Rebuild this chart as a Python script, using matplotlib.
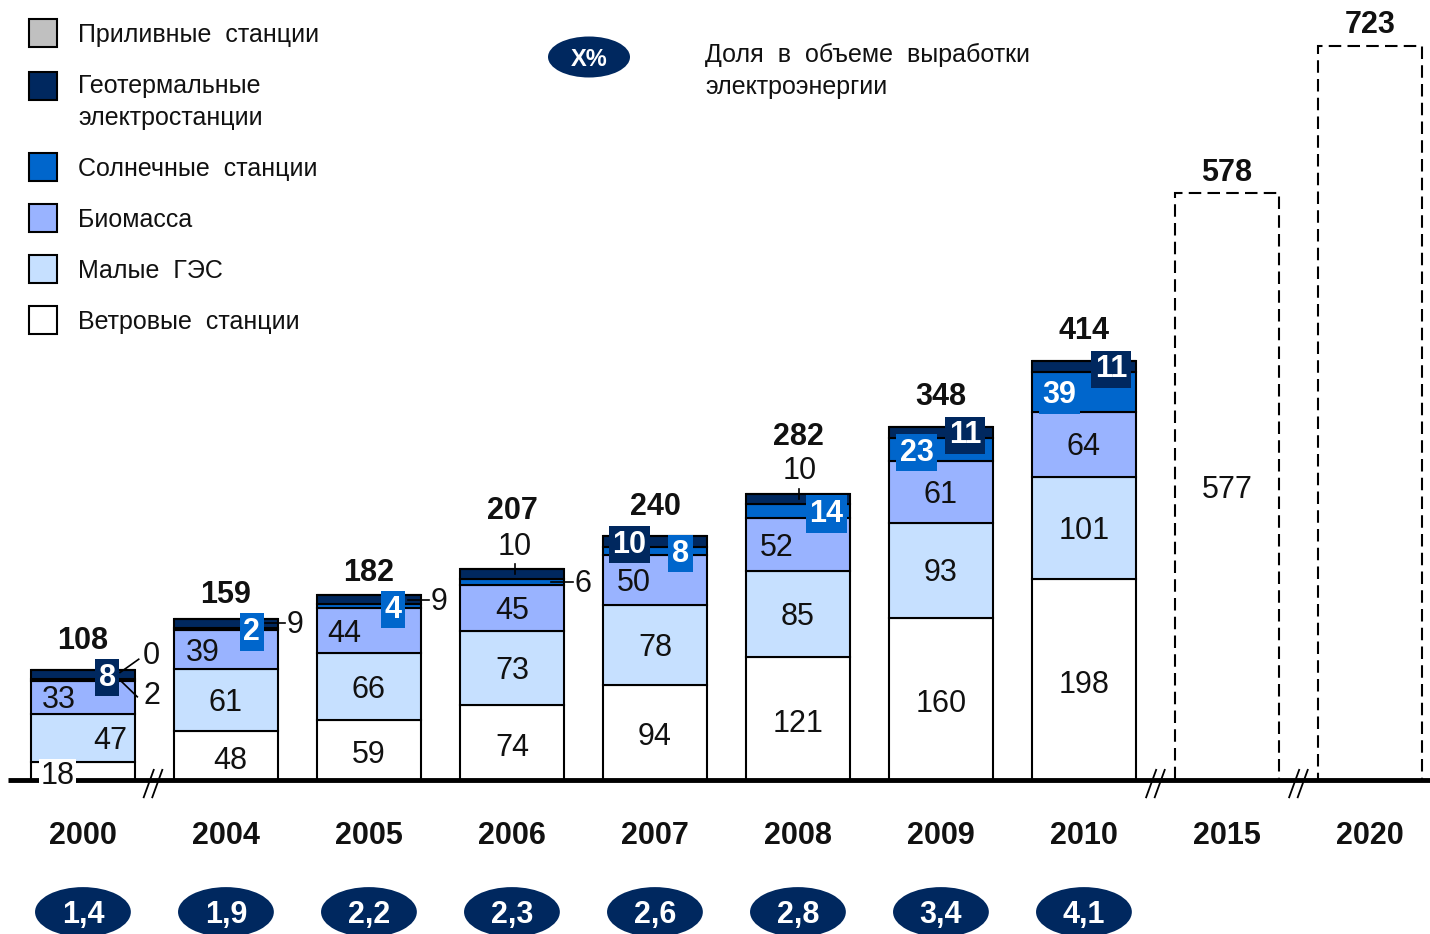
import matplotlib
matplotlib.use('Agg')
import matplotlib.pyplot as plt
from matplotlib.patches import Ellipse, Rectangle
import numpy as np

plt.rcParams['font.family'] = ['Liberation Sans', 'DejaVu Sans']

# data
years = ['2000', '2004', '2005', '2006', '2007', '2008', '2009', '2010', '2015', '2020']
wind = [18, 48, 59, 74, 94, 121, 160, 198]
hydro = [47, 61, 66, 73, 78, 85, 93, 101]
biomass = [33, 39, 44, 45, 50, 52, 61, 64]
solar = [2, 2, 4, 6, 8, 14, 23, 39]
geo = [8, 9, 9, 10, 10, 10, 11, 11]
tidal = [0, 0, 0, 0, 0, 0, 0, 0]
totals = [108, 159, 182, 207, 240, 282, 348, 414, 578, 723]
forecast_inner = ['577', '']
share = ['1,4', '1,9', '2,2', '2,3', '2,6', '2,8', '3,4', '4,1']
names = ['Приливные  станции', 'Геотермальные\nэлектростанции', 'Солнечные  станции',
         'Биомасса', 'Малые  ГЭС', 'Ветровые  станции']

# styling
c_tidal, c_geo, c_solar, c_bio, c_hydro, c_wind = '#C0C0C0', '#00285F', '#0066CC', '#99B3FF', '#C6E0FF', 'white'
txt = '#111111'
fs = 22
tv = -3  # small downward nudge for text so digits sit visually centred

fig = plt.figure(figsize=(14.3, 9.34), dpi=100)
ax = fig.add_axes([0, 0, 1, 1])
ax.set_xlim(-0.580, 9.420)
ax.set_ylim(-151.7, 768.5)
ax.axis('off')

n = len(wind)
x = np.arange(len(years))
w = 0.727

stack = [wind, hydro, biomass, solar, geo, tidal]
cols = [c_wind, c_hydro, c_bio, c_solar, c_geo, c_tidal]
bottoms = []
bottom = np.zeros(n)
for vals, c in zip(stack, cols):
    vals = np.array(vals, float)
    bottoms.append(bottom.copy())
    ax.bar(x[:n], vals, w, bottom=bottom, color=c, edgecolor='black', linewidth=1.5, zorder=3)
    bottom += vals

# forecast bars
ax.bar(x[n:], totals[n:], w, facecolor='white', edgecolor='black', linewidth=1.5,
       linestyle=(0, (6, 3)), zorder=3)
for i, s in zip(x[n:], forecast_inner):
    ax.text(i, totals[i] / 2 + tv, s, ha='center', va='center', fontsize=fs, color=txt, zorder=6)


def mid(k, i):
    return bottoms[k][i] + stack[k][i] / 2


# wind / hydro / biomass labels
wind_dx = [-0.18, 0.03, 0, 0, 0, 0, 0, 0]
hydro_dx = [0.19, 0, 0, 0, 0, 0, 0, 0]
bio_dx = [-0.17, -0.16, -0.17, 0, -0.15, -0.15, 0, 0]
for i in range(n):
    bb = dict(fc='white', ec='none', pad=1) if i == 0 else None
    ax.text(i + wind_dx[i], mid(0, i) - 2 + tv, str(wind[i]), ha='center', va='center',
            fontsize=fs, color=txt, zorder=6, bbox=bb)
    ax.text(i + hydro_dx[i], mid(1, i) + tv, str(hydro[i]), ha='center', va='center',
            fontsize=fs, color=txt, zorder=6)
    ax.text(i + bio_dx[i], mid(2, i) + tv, str(biomass[i]), ha='center', va='center',
            fontsize=fs, color=txt, zorder=6)

# solar and geothermal labels
solar_mode = ['diag', 'box', 'box', 'side', 'box', 'box', 'box', 'box']
solar_dx = [0.48, 0.18, 0.17, 0.50, 0.18, 0.20, -0.17, -0.17]
geo_mode = ['box', 'side', 'side', 'above', 'box', 'above', 'box', 'box']
geo_dx = [0.17, 0.48, 0.49, 0.02, -0.18, 0.01, 0.17, 0.19]


def seg_label(k, i, mode, dx, val, fc):
    m = mid(k, i)
    top = bottoms[k][i] + stack[k][i]
    if mode == 'box':
        ax.text(i + dx, m + tv, str(val), ha='center', va='center', fontsize=fs, color='white',
                fontweight='bold', zorder=7,
                bbox=dict(boxstyle='square,pad=0.12', fc=fc, ec='none'))
    elif mode == 'side':
        ax.plot([i + w / 2 - 0.09, i + dx - 0.07], [m, m], color='black', lw=1.2, zorder=7)
        ax.text(i + dx, m + tv + 1, str(val), ha='center', va='center', fontsize=fs, color=txt, zorder=7)
    elif mode == 'above':
        ax.plot([i + dx, i + dx], [m, top + 5], color='black', lw=1.2, zorder=7)
        ax.text(i + dx, top + 25 + tv, str(val), ha='center', va='center', fontsize=fs, color=txt, zorder=7)
    elif mode == 'diag':
        ax.plot([i + 0.27, i + 0.38], [m - 2, m - 17], color='black', lw=1.2, zorder=7)
        ax.text(i + dx, m - 13 + tv, str(val), ha='center', va='center', fontsize=fs, color=txt, zorder=7)


for i in range(n):
    seg_label(3, i, solar_mode[i], solar_dx[i], solar[i], c_solar)
    seg_label(4, i, geo_mode[i], geo_dx[i], geo[i], c_geo)

# tidal "0" for 2000
top0 = bottoms[5][0]
ax.plot([0.26, 0.39], [top0 - 2, top0 + 11], color='black', lw=1.2, zorder=7)
ax.text(0.48, top0 + 17 + tv, str(tidal[0]), ha='center', va='center', fontsize=fs, color=txt, zorder=7)

# totals
total_dy = [32, 26, 25, 61, 32, 59, 32, 31, 23, 24]
for i, t in enumerate(totals):
    ax.text(i, t + total_dy[i] + tv, str(t), ha='center', va='center', fontsize=fs,
            fontweight='bold', color=txt, zorder=7)

# baseline and break marks
ax.plot([-0.524, 9.42], [0, 0], color='black', lw=3.5, zorder=4, solid_capstyle='butt')
for xc in [0.49, 7.5, 8.5]:
    for d in (-0.03, 0.03):
        ax.plot([xc + d + 0.035, xc + d - 0.035], [10, -17], color='black', lw=1.3, zorder=5)

# years and shares
for i, y in enumerate(years):
    ax.text(i, -52 + tv, y, ha='center', va='center', fontsize=fs, fontweight='bold', color=txt)
for i, s in enumerate(share):
    ax.add_patch(Ellipse((i, -130), 0.67, 49, fc=c_geo, ec='none', zorder=3))
    ax.text(i, -130 + tv, s, ha='center', va='center', fontsize=fs, fontweight='bold', color='white', zorder=4)

# legend (figure pixels)
W, H = 1430, 934


def fx(px):
    return px / W


def fy(py):
    return 1 - py / H


leg_rows = [33, 86, 167, 218, 269, 320]
leg_cols = [c_tidal, c_geo, c_solar, c_bio, c_hydro, c_wind]
for py, c, name in zip(leg_rows, leg_cols, names):
    fig.patches.append(Rectangle((fx(29), fy(py + 14)), 28 / W, 28 / H, transform=fig.transFigure,
                                 fc=c, ec='black', lw=1.5, figure=fig))
    if '\n' in name:
        fig.text(fx(78), fy(py - 12), name, ha='left', va='top', fontsize=18, color=txt,
                 linespacing=1.42)
    else:
        fig.text(fx(78), fy(py + 2), name, ha='left', va='center', fontsize=18, color=txt)

fig.patches.append(Ellipse((fx(589), fy(57)), 82 / W, 41 / H, transform=fig.transFigure,
                           fc=c_geo, ec='none', figure=fig))
fig.text(fx(589), fy(59), 'X%', ha='center', va='center', fontsize=17, fontweight='bold', color='white')
fig.text(fx(705), fy(43), 'Доля  в  объеме  выработки\nэлектроэнергии', ha='left', va='top',
         fontsize=18, color=txt, linespacing=1.42)

fig.savefig('out.png', dpi=100)
